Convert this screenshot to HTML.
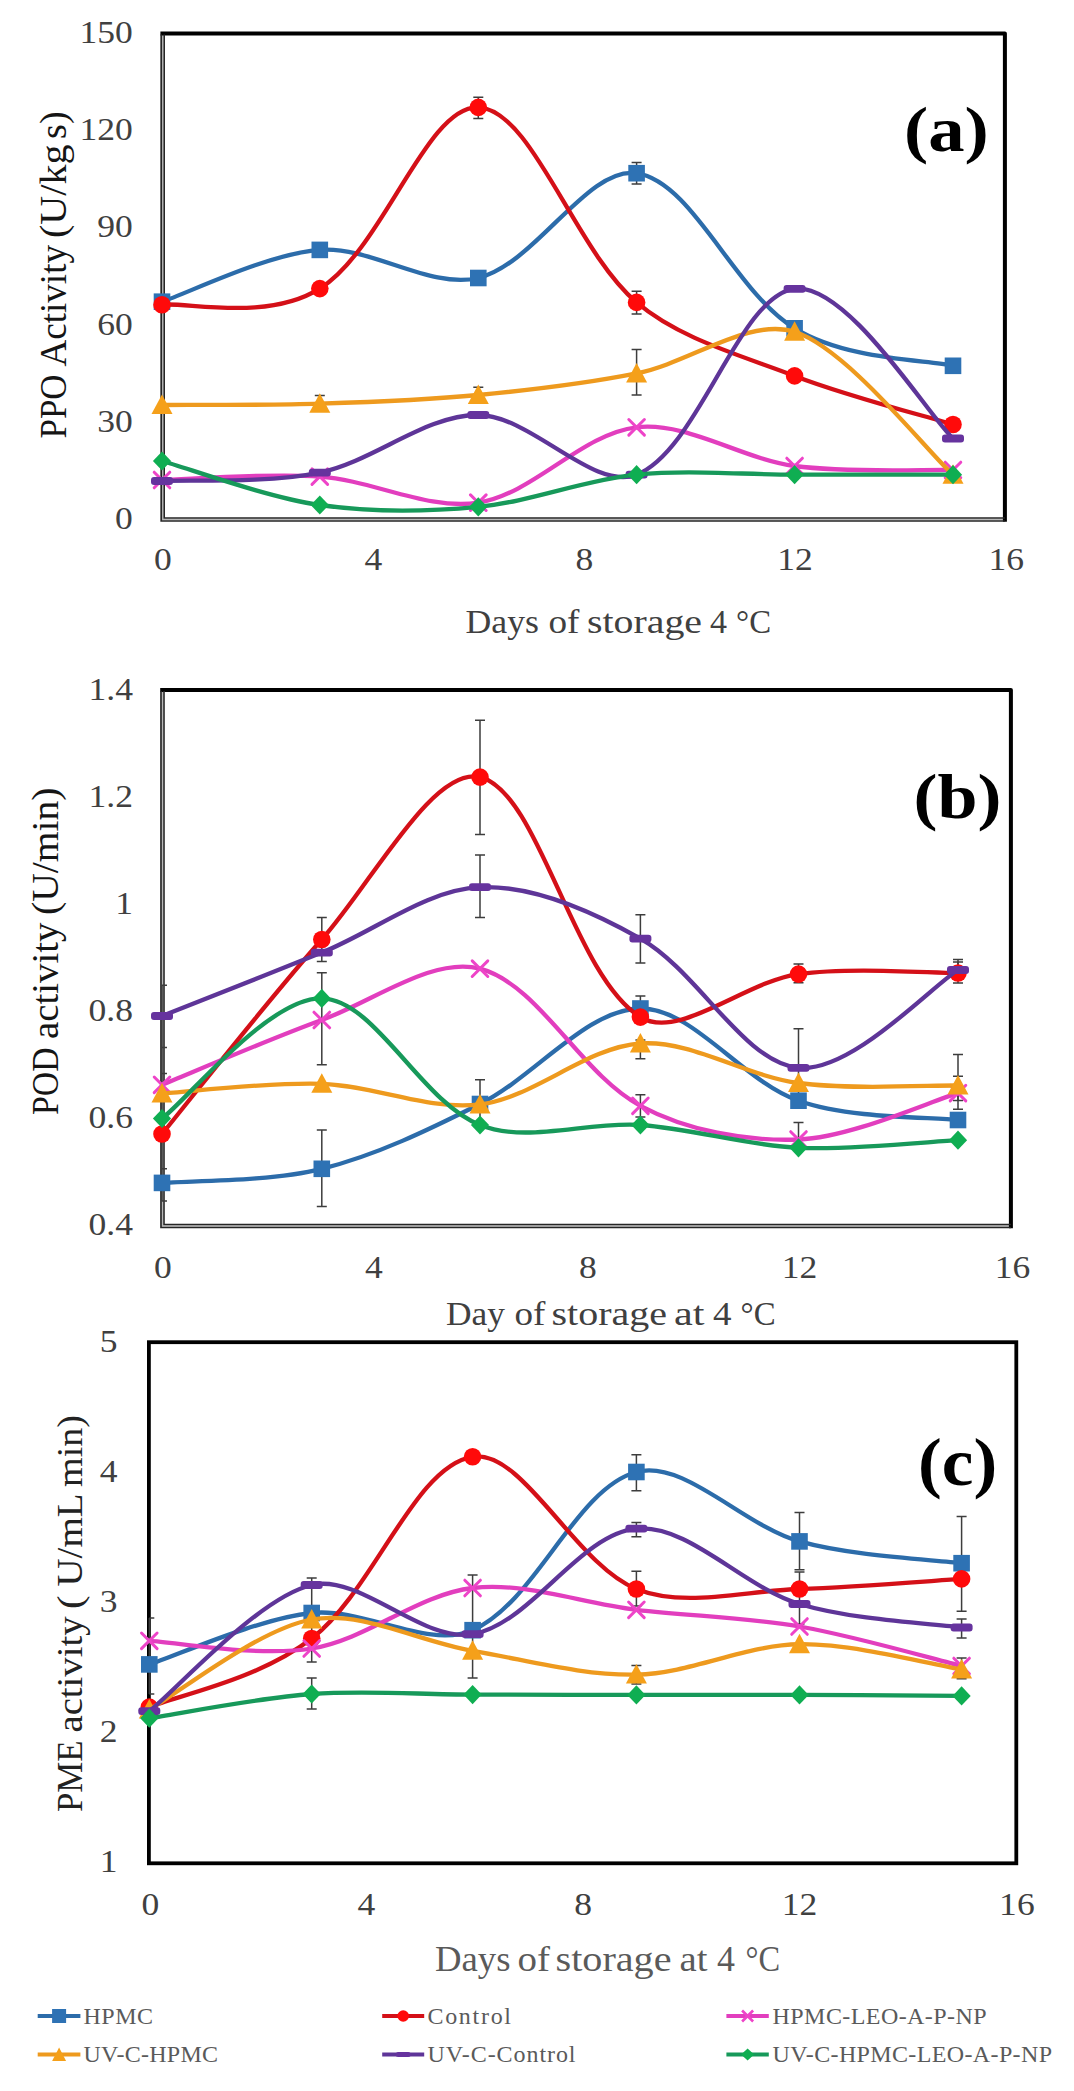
<!DOCTYPE html>
<html><head><meta charset="utf-8"><title>Enzyme activity charts</title>
<style>html,body{margin:0;padding:0;background:#fff;width:1074px;height:2091px;overflow:hidden}svg{display:block}</style>
</head><body>
<svg width="1074" height="2091" viewBox="0 0 1074 2091" font-family="'Liberation Serif', serif">
<rect width="1074" height="2091" fill="#fff"/>
<path d="M160.4,33.4 H1004.9 V521.8" stroke="#000" stroke-width="4" fill="none" stroke-linejoin="round"/><path d="M161.2,34.4 V521.0 H1004.9" stroke="#262626" stroke-width="1.7" fill="none"/><path d="M164.2,34.4 V518.0 H1004.9" stroke="#262626" stroke-width="1.6" fill="none"/><path d="M162.7,34.4 V519.5 H1004.9" stroke="rgba(0,0,0,0.28)" stroke-width="1.4" fill="none"/>
<path d="M160.2,689.9 H1010.9 V1228.3" stroke="#000" stroke-width="4" fill="none" stroke-linejoin="round"/><path d="M161.0,690.9 V1227.5 H1010.9" stroke="#262626" stroke-width="1.7" fill="none"/><path d="M164.0,690.9 V1224.5 H1010.9" stroke="#262626" stroke-width="1.6" fill="none"/><path d="M162.5,690.9 V1226.0 H1010.9" stroke="rgba(0,0,0,0.28)" stroke-width="1.4" fill="none"/>
<rect x="148.9" y="1342.2" width="867.4" height="521.1" stroke="#000" stroke-width="3.8" fill="none"/>
<path d="M478.3,97.3 V118.6 M473.3,97.3 H483.3 M473.3,118.6 H483.3" stroke="#3d3d3d" stroke-width="1.5" fill="none"/>
<path d="M636.6,162.5 V183.9 M631.6,162.5 H641.6 M631.6,183.9 H641.6" stroke="#3d3d3d" stroke-width="1.5" fill="none"/>
<path d="M636.6,291.3 V314.1 M631.6,291.3 H641.6 M631.6,314.1 H641.6" stroke="#3d3d3d" stroke-width="1.5" fill="none"/>
<path d="M636.6,349.5 V395.0 M631.6,349.5 H641.6 M631.6,395.0 H641.6" stroke="#3d3d3d" stroke-width="1.5" fill="none"/>
<path d="M319.8,395.5 V410.0 M314.8,395.5 H324.8 M314.8,410.0 H324.8" stroke="#3d3d3d" stroke-width="1.5" fill="none"/>
<path d="M478.3,387.2 V402.0 M473.3,387.2 H483.3 M473.3,402.0 H483.3" stroke="#3d3d3d" stroke-width="1.5" fill="none"/>
<path d="M478.3,411.8 V418.0 M473.3,411.8 H483.3 M473.3,418.0 H483.3" stroke="#3d3d3d" stroke-width="1.5" fill="none"/>
<path d="M162.0,301.7 C188.3,293.1 267.1,253.8 319.8,249.9 C371.7,246.0 429.8,289.7 478.3,278.0 C535.4,264.2 587.9,165.5 636.6,173.2 C693.4,182.2 733.8,291.3 794.6,328.3 C847.3,360.4 926.6,359.6 953.0,365.8" stroke="#2C6CAA" stroke-width="4.3" fill="none" stroke-linecap="round" stroke-linejoin="round"/>
<rect x="153.7" y="293.4" width="16.6" height="16.6" fill="#2E72B4"/>
<rect x="311.5" y="241.6" width="16.6" height="16.6" fill="#2E72B4"/>
<rect x="470.0" y="269.7" width="16.6" height="16.6" fill="#2E72B4"/>
<rect x="628.3" y="164.9" width="16.6" height="16.6" fill="#2E72B4"/>
<rect x="786.3" y="320.0" width="16.6" height="16.6" fill="#2E72B4"/>
<rect x="944.7" y="357.5" width="16.6" height="16.6" fill="#2E72B4"/>
<path d="M162.0,304.7 C188.3,302.0 267.1,321.5 319.8,288.6 C383.4,249.0 426.6,105.1 478.3,107.4 C532.2,109.7 574.4,249.6 636.6,302.4 C679.8,339.1 740.5,355.0 794.6,375.9 C847.3,396.2 926.6,416.4 953.0,424.5" stroke="#D41018" stroke-width="4.3" fill="none" stroke-linecap="round" stroke-linejoin="round"/>
<circle cx="162.0" cy="304.7" r="8.8" fill="#FF0A0A"/>
<circle cx="319.8" cy="288.6" r="8.8" fill="#FF0A0A"/>
<circle cx="478.3" cy="107.4" r="8.8" fill="#FF0A0A"/>
<circle cx="636.6" cy="302.4" r="8.8" fill="#FF0A0A"/>
<circle cx="794.6" cy="375.9" r="8.8" fill="#FF0A0A"/>
<circle cx="953.0" cy="424.5" r="8.8" fill="#FF0A0A"/>
<path d="M162.0,480.0 C188.3,479.4 267.1,472.8 319.8,476.6 C373.0,480.4 427.8,510.6 478.3,502.7 C533.4,494.1 581.9,433.6 636.6,427.3 C687.3,421.4 741.2,458.8 794.6,466.0 C847.3,473.1 926.6,469.3 953.0,470.0" stroke="#E23EBE" stroke-width="4.3" fill="none" stroke-linecap="round" stroke-linejoin="round"/>
<path d="M154.2,472.2 L169.8,487.8 M154.2,487.8 L169.8,472.2" stroke="#EE44C8" stroke-width="3.0" stroke-linecap="round" fill="none"/>
<path d="M312.0,468.8 L327.6,484.4 M312.0,484.4 L327.6,468.8" stroke="#EE44C8" stroke-width="3.0" stroke-linecap="round" fill="none"/>
<path d="M470.5,494.9 L486.1,510.5 M470.5,510.5 L486.1,494.9" stroke="#EE44C8" stroke-width="3.0" stroke-linecap="round" fill="none"/>
<path d="M628.8,419.5 L644.4,435.1 M628.8,435.1 L644.4,419.5" stroke="#EE44C8" stroke-width="3.0" stroke-linecap="round" fill="none"/>
<path d="M786.8,458.2 L802.4,473.8 M786.8,473.8 L802.4,458.2" stroke="#EE44C8" stroke-width="3.0" stroke-linecap="round" fill="none"/>
<path d="M945.2,462.2 L960.8,477.8 M945.2,477.8 L960.8,462.2" stroke="#EE44C8" stroke-width="3.0" stroke-linecap="round" fill="none"/>
<path d="M162.0,405.0 C188.3,404.8 267.1,405.4 319.8,403.7 C372.7,402.0 425.7,400.0 478.3,395.0 C531.3,389.9 584.5,383.8 636.6,373.4 C689.9,362.7 748.9,317.2 794.6,331.8 C847.3,348.7 926.6,450.9 953.0,474.7" stroke="#EE9A1E" stroke-width="4.3" fill="none" stroke-linecap="round" stroke-linejoin="round"/>
<path d="M162.0,394.5 L172.5,414.0 L151.5,414.0 Z" fill="#F5A01A"/>
<path d="M319.8,393.2 L330.3,412.7 L309.3,412.7 Z" fill="#F5A01A"/>
<path d="M478.3,384.5 L488.8,404.0 L467.8,404.0 Z" fill="#F5A01A"/>
<path d="M636.6,362.9 L647.1,382.4 L626.1,382.4 Z" fill="#F5A01A"/>
<path d="M794.6,321.3 L805.1,340.8 L784.1,340.8 Z" fill="#F5A01A"/>
<path d="M953.0,464.2 L963.5,483.7 L942.5,483.7 Z" fill="#F5A01A"/>
<path d="M162.0,481.0 C188.3,479.6 267.1,483.6 319.8,472.6 C374.2,461.2 425.6,414.7 478.3,415.0 C531.2,415.4 593.4,491.9 636.6,474.7 C698.9,449.9 738.9,295.2 794.6,288.8 C847.3,282.8 926.6,413.6 953.0,438.5" stroke="#5E3598" stroke-width="4.3" fill="none" stroke-linecap="round" stroke-linejoin="round"/>
<rect x="151.0" y="477.1" width="22.0" height="7.8" rx="3.0" fill="#66339E"/>
<rect x="308.8" y="468.7" width="22.0" height="7.8" rx="3.0" fill="#66339E"/>
<rect x="467.3" y="411.1" width="22.0" height="7.8" rx="3.0" fill="#66339E"/>
<rect x="625.6" y="470.8" width="22.0" height="7.8" rx="3.0" fill="#66339E"/>
<rect x="783.6" y="284.9" width="22.0" height="7.8" rx="3.0" fill="#66339E"/>
<rect x="942.0" y="434.6" width="22.0" height="7.8" rx="3.0" fill="#66339E"/>
<path d="M162.0,461.0 C188.3,468.3 267.1,497.4 319.8,505.0 C371.6,512.5 426.0,511.8 478.3,506.8 C531.6,501.7 583.3,480.1 636.6,474.7 C688.7,469.4 741.9,474.7 794.6,474.7 C847.3,474.7 926.6,474.7 953.0,474.7" stroke="#17995A" stroke-width="4.3" fill="none" stroke-linecap="round" stroke-linejoin="round"/>
<path d="M162.0,451.4 L171.1,461.0 L162.0,470.6 L152.9,461.0 Z" fill="#0FAE52"/>
<path d="M319.8,495.4 L328.9,505.0 L319.8,514.6 L310.7,505.0 Z" fill="#0FAE52"/>
<path d="M478.3,497.2 L487.4,506.8 L478.3,516.4 L469.2,506.8 Z" fill="#0FAE52"/>
<path d="M636.6,465.1 L645.7,474.7 L636.6,484.3 L627.5,474.7 Z" fill="#0FAE52"/>
<path d="M794.6,465.1 L803.7,474.7 L794.6,484.3 L785.5,474.7 Z" fill="#0FAE52"/>
<path d="M953.0,465.1 L962.1,474.7 L953.0,484.3 L943.9,474.7 Z" fill="#0FAE52"/>
<path d="M480.0,720.3 V834.5 M475.0,720.3 H485.0 M475.0,834.5 H485.0" stroke="#3d3d3d" stroke-width="1.5" fill="none"/>
<path d="M480.0,855.0 V917.4 M475.0,855.0 H485.0 M475.0,917.4 H485.0" stroke="#3d3d3d" stroke-width="1.5" fill="none"/>
<path d="M321.8,917.4 V961.6 M316.8,917.4 H326.8 M316.8,961.6 H326.8" stroke="#3d3d3d" stroke-width="1.5" fill="none"/>
<path d="M321.8,972.7 V1064.7 M316.8,972.7 H326.8 M316.8,1064.7 H326.8" stroke="#3d3d3d" stroke-width="1.5" fill="none"/>
<path d="M321.8,1130.0 V1206.5 M316.8,1130.0 H326.8 M316.8,1206.5 H326.8" stroke="#3d3d3d" stroke-width="1.5" fill="none"/>
<path d="M480.0,1079.8 V1128.0 M475.0,1079.8 H485.0 M475.0,1128.0 H485.0" stroke="#3d3d3d" stroke-width="1.5" fill="none"/>
<path d="M640.4,914.8 V963.0 M635.4,914.8 H645.4 M635.4,963.0 H645.4" stroke="#3d3d3d" stroke-width="1.5" fill="none"/>
<path d="M640.4,995.9 V1020.0 M635.4,995.9 H645.4 M635.4,1020.0 H645.4" stroke="#3d3d3d" stroke-width="1.5" fill="none"/>
<path d="M640.4,1040.0 V1058.7 M635.4,1040.0 H645.4 M635.4,1058.7 H645.4" stroke="#3d3d3d" stroke-width="1.5" fill="none"/>
<path d="M640.4,1094.7 V1117.0 M635.4,1094.7 H645.4 M635.4,1117.0 H645.4" stroke="#3d3d3d" stroke-width="1.5" fill="none"/>
<path d="M798.5,1028.8 V1108.0 M793.5,1028.8 H803.5 M793.5,1108.0 H803.5" stroke="#3d3d3d" stroke-width="1.5" fill="none"/>
<path d="M798.5,1122.5 V1150.0 M793.5,1122.5 H803.5 M793.5,1150.0 H803.5" stroke="#3d3d3d" stroke-width="1.5" fill="none"/>
<path d="M798.5,964.0 V982.7 M793.5,964.0 H803.5 M793.5,982.7 H803.5" stroke="#3d3d3d" stroke-width="1.5" fill="none"/>
<path d="M958.0,959.5 V983.0 M953.0,959.5 H963.0 M953.0,983.0 H963.0" stroke="#3d3d3d" stroke-width="1.5" fill="none"/>
<path d="M958.0,962.0 V975.0 M953.0,962.0 H963.0 M953.0,975.0 H963.0" stroke="#3d3d3d" stroke-width="1.5" fill="none"/>
<path d="M958.0,1054.6 V1100.4 M953.0,1054.6 H963.0 M953.0,1100.4 H963.0" stroke="#3d3d3d" stroke-width="1.5" fill="none"/>
<path d="M958.0,1076.2 V1109.3 M953.0,1076.2 H963.0 M953.0,1109.3 H963.0" stroke="#3d3d3d" stroke-width="1.5" fill="none"/>
<path d="M162.0,985.3 V1201.0 M162.0,985.3 H167.0 M162.0,1047.4 H167.0 M162.0,1073.5 H167.0 M162.0,1168.8 H167.0 M162.0,1200.9 H167.0" stroke="#3d3d3d" stroke-width="1.5" fill="none"/>
<path d="M162.0,1182.9 C188.6,1180.6 268.8,1182.0 321.8,1168.8 C376.5,1155.2 429.2,1129.5 480.0,1104.0 C535.4,1076.1 586.8,1009.1 640.4,1008.5 C693.0,1008.0 742.1,1080.9 798.5,1100.7 C851.4,1119.3 931.4,1116.8 958.0,1120.0" stroke="#2C6CAA" stroke-width="4.3" fill="none" stroke-linecap="round" stroke-linejoin="round"/>
<rect x="153.7" y="1174.6" width="16.6" height="16.6" fill="#2E72B4"/>
<rect x="313.5" y="1160.5" width="16.6" height="16.6" fill="#2E72B4"/>
<rect x="471.7" y="1095.7" width="16.6" height="16.6" fill="#2E72B4"/>
<rect x="632.1" y="1000.2" width="16.6" height="16.6" fill="#2E72B4"/>
<rect x="790.2" y="1092.4" width="16.6" height="16.6" fill="#2E72B4"/>
<rect x="949.7" y="1111.7" width="16.6" height="16.6" fill="#2E72B4"/>
<path d="M162.0,1134.0 C188.6,1101.6 268.8,999.0 321.8,939.5 C372.0,883.1 433.3,765.7 480.0,777.1 C539.5,791.6 572.7,975.2 640.4,1017.1 C678.8,1040.9 744.9,981.5 798.5,974.1 C851.4,966.8 931.4,973.2 958.0,973.0" stroke="#D41018" stroke-width="4.3" fill="none" stroke-linecap="round" stroke-linejoin="round"/>
<circle cx="162.0" cy="1134.0" r="8.8" fill="#FF0A0A"/>
<circle cx="321.8" cy="939.5" r="8.8" fill="#FF0A0A"/>
<circle cx="480.0" cy="777.1" r="8.8" fill="#FF0A0A"/>
<circle cx="640.4" cy="1017.1" r="8.8" fill="#FF0A0A"/>
<circle cx="798.5" cy="974.1" r="8.8" fill="#FF0A0A"/>
<circle cx="958.0" cy="973.0" r="8.8" fill="#FF0A0A"/>
<path d="M162.0,1084.8 C188.6,1074.0 268.8,1039.3 321.8,1020.0 C373.8,1001.0 433.2,956.1 480.0,968.7 C539.4,984.7 580.3,1073.6 640.4,1105.8 C686.5,1130.5 746.3,1141.6 798.5,1139.5 C851.4,1137.4 931.4,1100.8 958.0,1093.1" stroke="#E23EBE" stroke-width="4.3" fill="none" stroke-linecap="round" stroke-linejoin="round"/>
<path d="M154.2,1077.0 L169.8,1092.6 M154.2,1092.6 L169.8,1077.0" stroke="#EE44C8" stroke-width="3.0" stroke-linecap="round" fill="none"/>
<path d="M314.0,1012.2 L329.6,1027.8 M314.0,1027.8 L329.6,1012.2" stroke="#EE44C8" stroke-width="3.0" stroke-linecap="round" fill="none"/>
<path d="M472.2,960.9 L487.8,976.5 M472.2,976.5 L487.8,960.9" stroke="#EE44C8" stroke-width="3.0" stroke-linecap="round" fill="none"/>
<path d="M632.6,1098.0 L648.2,1113.6 M632.6,1113.6 L648.2,1098.0" stroke="#EE44C8" stroke-width="3.0" stroke-linecap="round" fill="none"/>
<path d="M790.7,1131.7 L806.3,1147.3 M790.7,1147.3 L806.3,1131.7" stroke="#EE44C8" stroke-width="3.0" stroke-linecap="round" fill="none"/>
<path d="M950.2,1085.3 L965.8,1100.9 M950.2,1100.9 L965.8,1085.3" stroke="#EE44C8" stroke-width="3.0" stroke-linecap="round" fill="none"/>
<path d="M162.0,1093.4 C188.6,1091.8 268.8,1082.0 321.8,1083.8 C374.7,1085.6 428.8,1110.9 480.0,1104.4 C535.0,1097.4 586.0,1047.2 640.4,1043.5 C692.1,1040.0 745.0,1075.9 798.5,1083.0 C851.4,1090.0 931.4,1085.1 958.0,1085.5" stroke="#EE9A1E" stroke-width="4.3" fill="none" stroke-linecap="round" stroke-linejoin="round"/>
<path d="M162.0,1082.9 L172.5,1102.4 L151.5,1102.4 Z" fill="#F5A01A"/>
<path d="M321.8,1073.3 L332.3,1092.8 L311.3,1092.8 Z" fill="#F5A01A"/>
<path d="M480.0,1093.9 L490.5,1113.4 L469.5,1113.4 Z" fill="#F5A01A"/>
<path d="M640.4,1033.0 L650.9,1052.5 L629.9,1052.5 Z" fill="#F5A01A"/>
<path d="M798.5,1072.5 L809.0,1092.0 L788.0,1092.0 Z" fill="#F5A01A"/>
<path d="M958.0,1075.0 L968.5,1094.5 L947.5,1094.5 Z" fill="#F5A01A"/>
<path d="M162.0,1016.0 C188.6,1005.4 268.8,974.1 321.8,952.6 C374.7,931.2 426.5,889.6 480.0,887.2 C532.7,884.9 592.4,911.4 640.4,938.6 C698.6,971.6 743.3,1062.3 798.5,1067.8 C851.4,1073.0 931.4,986.3 958.0,970.0" stroke="#5E3598" stroke-width="4.3" fill="none" stroke-linecap="round" stroke-linejoin="round"/>
<rect x="151.0" y="1012.1" width="22.0" height="7.8" rx="3.0" fill="#66339E"/>
<rect x="310.8" y="948.7" width="22.0" height="7.8" rx="3.0" fill="#66339E"/>
<rect x="469.0" y="883.3" width="22.0" height="7.8" rx="3.0" fill="#66339E"/>
<rect x="629.4" y="934.7" width="22.0" height="7.8" rx="3.0" fill="#66339E"/>
<rect x="787.5" y="1063.9" width="22.0" height="7.8" rx="3.0" fill="#66339E"/>
<rect x="947.0" y="966.1" width="22.0" height="7.8" rx="3.0" fill="#66339E"/>
<path d="M162.0,1118.5 C188.6,1098.5 268.8,997.3 321.8,998.4 C375.2,999.5 420.7,1101.4 480.0,1125.0 C526.9,1143.6 587.2,1121.2 640.4,1125.0 C693.4,1128.8 745.6,1145.3 798.5,1147.8 C851.4,1150.3 931.4,1141.5 958.0,1140.2" stroke="#17995A" stroke-width="4.3" fill="none" stroke-linecap="round" stroke-linejoin="round"/>
<path d="M162.0,1108.9 L171.1,1118.5 L162.0,1128.1 L152.9,1118.5 Z" fill="#0FAE52"/>
<path d="M321.8,988.8 L330.9,998.4 L321.8,1008.0 L312.7,998.4 Z" fill="#0FAE52"/>
<path d="M480.0,1115.4 L489.1,1125.0 L480.0,1134.6 L470.9,1125.0 Z" fill="#0FAE52"/>
<path d="M640.4,1115.4 L649.5,1125.0 L640.4,1134.6 L631.3,1125.0 Z" fill="#0FAE52"/>
<path d="M798.5,1138.2 L807.6,1147.8 L798.5,1157.4 L789.4,1147.8 Z" fill="#0FAE52"/>
<path d="M958.0,1130.6 L967.1,1140.2 L958.0,1149.8 L948.9,1140.2 Z" fill="#0FAE52"/>
<path d="M149.3,1618.0 V1694.0 M149.3,1618.0 H154.3 M149.3,1694.0 H154.3" stroke="#3d3d3d" stroke-width="1.5" fill="none"/>
<path d="M311.7,1578.0 V1662.0 M306.7,1578.0 H316.7 M306.7,1662.0 H316.7" stroke="#3d3d3d" stroke-width="1.5" fill="none"/>
<path d="M311.7,1678.0 V1709.0 M306.7,1678.0 H316.7 M306.7,1709.0 H316.7" stroke="#3d3d3d" stroke-width="1.5" fill="none"/>
<path d="M472.6,1575.0 V1678.0 M467.6,1575.0 H477.6 M467.6,1678.0 H477.6" stroke="#3d3d3d" stroke-width="1.5" fill="none"/>
<path d="M636.4,1454.8 V1490.7 M631.4,1454.8 H641.4 M631.4,1490.7 H641.4" stroke="#3d3d3d" stroke-width="1.5" fill="none"/>
<path d="M636.4,1522.6 V1536.8 M631.4,1522.6 H641.4 M631.4,1536.8 H641.4" stroke="#3d3d3d" stroke-width="1.5" fill="none"/>
<path d="M636.4,1571.3 V1606.0 M631.4,1571.3 H641.4 M631.4,1606.0 H641.4" stroke="#3d3d3d" stroke-width="1.5" fill="none"/>
<path d="M636.4,1665.5 V1684.0 M631.4,1665.5 H641.4 M631.4,1684.0 H641.4" stroke="#3d3d3d" stroke-width="1.5" fill="none"/>
<path d="M799.5,1512.5 V1569.7 M794.5,1512.5 H804.5 M794.5,1569.7 H804.5" stroke="#3d3d3d" stroke-width="1.5" fill="none"/>
<path d="M799.5,1572.0 V1624.0 M794.5,1572.0 H804.5 M794.5,1624.0 H804.5" stroke="#3d3d3d" stroke-width="1.5" fill="none"/>
<path d="M961.6,1516.6 V1611.3 M956.6,1516.6 H966.6 M956.6,1611.3 H966.6" stroke="#3d3d3d" stroke-width="1.5" fill="none"/>
<path d="M961.6,1618.9 V1638.0 M956.6,1618.9 H966.6 M956.6,1638.0 H966.6" stroke="#3d3d3d" stroke-width="1.5" fill="none"/>
<path d="M961.6,1657.9 V1678.7 M956.6,1657.9 H966.6 M956.6,1678.7 H966.6" stroke="#3d3d3d" stroke-width="1.5" fill="none"/>
<path d="M149.3,1664.4 C176.4,1655.8 257.8,1618.7 311.7,1613.0 C364.2,1607.4 427.6,1649.7 472.6,1630.2 C535.9,1602.7 575.1,1488.6 636.4,1472.0 C684.1,1459.0 743.1,1525.6 799.5,1541.4 C853.7,1556.6 934.6,1559.6 961.6,1563.2" stroke="#2C6CAA" stroke-width="4.3" fill="none" stroke-linecap="round" stroke-linejoin="round"/>
<rect x="141.0" y="1656.1" width="16.6" height="16.6" fill="#2E72B4"/>
<rect x="303.4" y="1604.7" width="16.6" height="16.6" fill="#2E72B4"/>
<rect x="464.3" y="1621.9" width="16.6" height="16.6" fill="#2E72B4"/>
<rect x="628.1" y="1463.7" width="16.6" height="16.6" fill="#2E72B4"/>
<rect x="791.2" y="1533.1" width="16.6" height="16.6" fill="#2E72B4"/>
<rect x="953.3" y="1554.9" width="16.6" height="16.6" fill="#2E72B4"/>
<path d="M149.3,1707.1 C176.4,1695.7 257.8,1680.2 311.7,1638.5 C374.1,1590.2 414.6,1465.6 472.6,1456.8 C522.9,1449.1 575.0,1564.2 636.4,1589.0 C684.0,1608.2 745.2,1590.7 799.5,1589.0 C853.7,1587.3 934.6,1580.6 961.6,1578.9" stroke="#D41018" stroke-width="4.3" fill="none" stroke-linecap="round" stroke-linejoin="round"/>
<circle cx="149.3" cy="1707.1" r="8.8" fill="#FF0A0A"/>
<circle cx="311.7" cy="1638.5" r="8.8" fill="#FF0A0A"/>
<circle cx="472.6" cy="1456.8" r="8.8" fill="#FF0A0A"/>
<circle cx="636.4" cy="1589.0" r="8.8" fill="#FF0A0A"/>
<circle cx="799.5" cy="1589.0" r="8.8" fill="#FF0A0A"/>
<circle cx="961.6" cy="1578.9" r="8.8" fill="#FF0A0A"/>
<path d="M149.3,1640.8 C176.4,1642.1 257.8,1657.3 311.7,1648.5 C367.1,1639.5 417.4,1594.6 472.6,1588.0 C525.6,1581.7 581.7,1603.4 636.4,1609.8 C690.7,1616.2 745.8,1617.2 799.5,1626.5 C853.7,1635.9 934.6,1659.4 961.6,1666.0" stroke="#E23EBE" stroke-width="4.3" fill="none" stroke-linecap="round" stroke-linejoin="round"/>
<path d="M141.5,1633.0 L157.1,1648.6 M141.5,1648.6 L157.1,1633.0" stroke="#EE44C8" stroke-width="3.0" stroke-linecap="round" fill="none"/>
<path d="M303.9,1640.7 L319.5,1656.3 M303.9,1656.3 L319.5,1640.7" stroke="#EE44C8" stroke-width="3.0" stroke-linecap="round" fill="none"/>
<path d="M464.8,1580.2 L480.4,1595.8 M464.8,1595.8 L480.4,1580.2" stroke="#EE44C8" stroke-width="3.0" stroke-linecap="round" fill="none"/>
<path d="M628.6,1602.0 L644.2,1617.6 M628.6,1617.6 L644.2,1602.0" stroke="#EE44C8" stroke-width="3.0" stroke-linecap="round" fill="none"/>
<path d="M791.7,1618.7 L807.3,1634.3 M791.7,1634.3 L807.3,1618.7" stroke="#EE44C8" stroke-width="3.0" stroke-linecap="round" fill="none"/>
<path d="M953.8,1658.2 L969.4,1673.8 M953.8,1673.8 L969.4,1658.2" stroke="#EE44C8" stroke-width="3.0" stroke-linecap="round" fill="none"/>
<path d="M149.3,1709.6 C176.4,1694.6 257.8,1629.3 311.7,1619.5 C362.2,1610.3 418.7,1641.7 472.6,1650.8 C527.0,1660.0 582.0,1675.7 636.4,1674.6 C690.9,1673.5 745.0,1645.1 799.5,1644.2 C853.7,1643.4 934.6,1665.3 961.6,1669.5" stroke="#EE9A1E" stroke-width="4.3" fill="none" stroke-linecap="round" stroke-linejoin="round"/>
<path d="M149.3,1699.1 L159.8,1718.6 L138.8,1718.6 Z" fill="#F5A01A"/>
<path d="M311.7,1609.0 L322.2,1628.5 L301.2,1628.5 Z" fill="#F5A01A"/>
<path d="M472.6,1640.3 L483.1,1659.8 L462.1,1659.8 Z" fill="#F5A01A"/>
<path d="M636.4,1664.1 L646.9,1683.6 L625.9,1683.6 Z" fill="#F5A01A"/>
<path d="M799.5,1633.7 L810.0,1653.2 L789.0,1653.2 Z" fill="#F5A01A"/>
<path d="M961.6,1659.0 L972.1,1678.5 L951.1,1678.5 Z" fill="#F5A01A"/>
<path d="M149.3,1711.2 C176.4,1690.2 257.8,1597.8 311.7,1585.0 C360.2,1573.5 422.4,1642.9 472.6,1634.2 C530.7,1624.1 579.7,1533.9 636.4,1528.7 C688.7,1523.9 742.8,1586.8 799.5,1604.0 C853.7,1620.5 934.6,1623.6 961.6,1627.5" stroke="#5E3598" stroke-width="4.3" fill="none" stroke-linecap="round" stroke-linejoin="round"/>
<rect x="138.3" y="1707.3" width="22.0" height="7.8" rx="3.0" fill="#66339E"/>
<rect x="300.7" y="1581.1" width="22.0" height="7.8" rx="3.0" fill="#66339E"/>
<rect x="461.6" y="1630.3" width="22.0" height="7.8" rx="3.0" fill="#66339E"/>
<rect x="625.4" y="1524.8" width="22.0" height="7.8" rx="3.0" fill="#66339E"/>
<rect x="788.5" y="1600.1" width="22.0" height="7.8" rx="3.0" fill="#66339E"/>
<rect x="950.6" y="1623.6" width="22.0" height="7.8" rx="3.0" fill="#66339E"/>
<path d="M149.3,1718.2 C176.4,1714.2 257.8,1697.9 311.7,1694.0 C365.0,1690.1 419.0,1694.5 472.6,1694.6 C527.2,1694.8 581.8,1694.8 636.4,1694.9 C690.8,1694.9 745.1,1694.7 799.5,1694.9 C853.7,1695.1 934.6,1695.7 961.6,1695.9" stroke="#17995A" stroke-width="4.3" fill="none" stroke-linecap="round" stroke-linejoin="round"/>
<path d="M149.3,1708.6 L158.4,1718.2 L149.3,1727.8 L140.2,1718.2 Z" fill="#0FAE52"/>
<path d="M311.7,1684.4 L320.8,1694.0 L311.7,1703.6 L302.6,1694.0 Z" fill="#0FAE52"/>
<path d="M472.6,1685.0 L481.7,1694.6 L472.6,1704.2 L463.5,1694.6 Z" fill="#0FAE52"/>
<path d="M636.4,1685.3 L645.5,1694.9 L636.4,1704.5 L627.3,1694.9 Z" fill="#0FAE52"/>
<path d="M799.5,1685.3 L808.6,1694.9 L799.5,1704.5 L790.4,1694.9 Z" fill="#0FAE52"/>
<path d="M961.6,1686.3 L970.7,1695.9 L961.6,1705.5 L952.5,1695.9 Z" fill="#0FAE52"/>
<text transform="translate(132.80,43.00) scale(1.130,1)" x="0" y="0" font-size="31.5" text-anchor="end" fill="#404040">150</text>
<text transform="translate(132.80,140.20) scale(1.130,1)" x="0" y="0" font-size="31.5" text-anchor="end" fill="#404040">120</text>
<text transform="translate(132.80,237.40) scale(1.130,1)" x="0" y="0" font-size="31.5" text-anchor="end" fill="#404040">90</text>
<text transform="translate(132.80,334.60) scale(1.130,1)" x="0" y="0" font-size="31.5" text-anchor="end" fill="#404040">60</text>
<text transform="translate(132.80,431.80) scale(1.130,1)" x="0" y="0" font-size="31.5" text-anchor="end" fill="#404040">30</text>
<text transform="translate(132.80,529.00) scale(1.130,1)" x="0" y="0" font-size="31.5" text-anchor="end" fill="#404040">0</text>
<text transform="translate(163.00,570.30) scale(1.130,1)" x="0" y="0" font-size="31.5" text-anchor="middle" fill="#404040">0</text>
<text transform="translate(373.50,570.30) scale(1.130,1)" x="0" y="0" font-size="31.5" text-anchor="middle" fill="#404040">4</text>
<text transform="translate(584.50,570.30) scale(1.130,1)" x="0" y="0" font-size="31.5" text-anchor="middle" fill="#404040">8</text>
<text transform="translate(795.00,570.30) scale(1.130,1)" x="0" y="0" font-size="31.5" text-anchor="middle" fill="#404040">12</text>
<text transform="translate(1006.30,570.30) scale(1.130,1)" x="0" y="0" font-size="31.5" text-anchor="middle" fill="#404040">16</text>
<text transform="translate(133.00,699.80) scale(1.130,1)" x="0" y="0" font-size="31.5" text-anchor="end" fill="#404040">1.4</text>
<text transform="translate(133.00,806.90) scale(1.130,1)" x="0" y="0" font-size="31.5" text-anchor="end" fill="#404040">1.2</text>
<text transform="translate(133.00,914.00) scale(1.130,1)" x="0" y="0" font-size="31.5" text-anchor="end" fill="#404040">1</text>
<text transform="translate(133.00,1021.10) scale(1.130,1)" x="0" y="0" font-size="31.5" text-anchor="end" fill="#404040">0.8</text>
<text transform="translate(133.00,1128.20) scale(1.130,1)" x="0" y="0" font-size="31.5" text-anchor="end" fill="#404040">0.6</text>
<text transform="translate(133.00,1235.30) scale(1.130,1)" x="0" y="0" font-size="31.5" text-anchor="end" fill="#404040">0.4</text>
<text transform="translate(163.00,1277.80) scale(1.130,1)" x="0" y="0" font-size="31.5" text-anchor="middle" fill="#404040">0</text>
<text transform="translate(374.00,1277.80) scale(1.130,1)" x="0" y="0" font-size="31.5" text-anchor="middle" fill="#404040">4</text>
<text transform="translate(588.00,1277.80) scale(1.130,1)" x="0" y="0" font-size="31.5" text-anchor="middle" fill="#404040">8</text>
<text transform="translate(799.50,1277.80) scale(1.130,1)" x="0" y="0" font-size="31.5" text-anchor="middle" fill="#404040">12</text>
<text transform="translate(1012.50,1277.80) scale(1.130,1)" x="0" y="0" font-size="31.5" text-anchor="middle" fill="#404040">16</text>
<text transform="translate(117.50,1351.60) scale(1.130,1)" x="0" y="0" font-size="31.5" text-anchor="end" fill="#404040">5</text>
<text transform="translate(117.50,1481.70) scale(1.130,1)" x="0" y="0" font-size="31.5" text-anchor="end" fill="#404040">4</text>
<text transform="translate(117.50,1611.80) scale(1.130,1)" x="0" y="0" font-size="31.5" text-anchor="end" fill="#404040">3</text>
<text transform="translate(117.50,1741.90) scale(1.130,1)" x="0" y="0" font-size="31.5" text-anchor="end" fill="#404040">2</text>
<text transform="translate(117.50,1872.00) scale(1.130,1)" x="0" y="0" font-size="31.5" text-anchor="end" fill="#404040">1</text>
<text transform="translate(150.30,1914.60) scale(1.130,1)" x="0" y="0" font-size="31.5" text-anchor="middle" fill="#404040">0</text>
<text transform="translate(366.50,1914.60) scale(1.130,1)" x="0" y="0" font-size="31.5" text-anchor="middle" fill="#404040">4</text>
<text transform="translate(583.20,1914.60) scale(1.130,1)" x="0" y="0" font-size="31.5" text-anchor="middle" fill="#404040">8</text>
<text transform="translate(799.50,1914.60) scale(1.130,1)" x="0" y="0" font-size="31.5" text-anchor="middle" fill="#404040">12</text>
<text transform="translate(1016.90,1914.60) scale(1.130,1)" x="0" y="0" font-size="31.5" text-anchor="middle" fill="#404040">16</text>
<text x="465.50" y="633.00" font-size="34.20" textLength="73.47" lengthAdjust="spacingAndGlyphs" fill="#404040">Days</text><text x="548.50" y="633.00" font-size="34.20" textLength="30.97" lengthAdjust="spacingAndGlyphs" fill="#404040">of</text><text x="587.00" y="633.00" font-size="34.20" textLength="114.99" lengthAdjust="spacingAndGlyphs" fill="#404040">storage</text><text x="710.00" y="633.00" font-size="34.20" textLength="17.00" lengthAdjust="spacingAndGlyphs" fill="#404040">4</text><text x="736.00" y="633.00" font-size="34.20" textLength="35.03" lengthAdjust="spacingAndGlyphs" fill="#404040">°C</text>
<text x="446.00" y="1325.20" font-size="34.62" textLength="59.00" lengthAdjust="spacingAndGlyphs" fill="#404040">Day</text><text x="514.50" y="1325.20" font-size="34.62" textLength="30.93" lengthAdjust="spacingAndGlyphs" fill="#404040">of</text><text x="551.50" y="1325.20" font-size="34.62" textLength="115.50" lengthAdjust="spacingAndGlyphs" fill="#404040">storage</text><text x="674.00" y="1325.20" font-size="34.62" textLength="30.47" lengthAdjust="spacingAndGlyphs" fill="#404040">at</text><text x="713.00" y="1325.20" font-size="34.62" textLength="18.53" lengthAdjust="spacingAndGlyphs" fill="#404040">4</text><text x="740.50" y="1325.20" font-size="34.62" textLength="35.03" lengthAdjust="spacingAndGlyphs" fill="#404040">°C</text>
<text x="435.00" y="1971.00" font-size="35.48" textLength="75.50" lengthAdjust="spacingAndGlyphs" fill="#5a5a5a">Days</text><text x="517.50" y="1971.00" font-size="35.48" textLength="32.42" lengthAdjust="spacingAndGlyphs" fill="#5a5a5a">of</text><text x="555.50" y="1971.00" font-size="35.48" textLength="116.01" lengthAdjust="spacingAndGlyphs" fill="#5a5a5a">storage</text><text x="679.50" y="1971.00" font-size="35.48" textLength="27.93" lengthAdjust="spacingAndGlyphs" fill="#5a5a5a">at</text><text x="717.00" y="1971.00" font-size="35.48" textLength="17.95" lengthAdjust="spacingAndGlyphs" fill="#5a5a5a">4</text><text x="745.50" y="1971.00" font-size="35.48" textLength="34.58" lengthAdjust="spacingAndGlyphs" fill="#5a5a5a">°C</text>
<text transform="translate(65.50,438.50) rotate(-90)" x="0" y="0" font-size="36.92" textLength="64.05" lengthAdjust="spacingAndGlyphs" fill="#151515">PPO</text><text transform="translate(65.50,366.50) rotate(-90)" x="0" y="0" font-size="36.92" textLength="121.51" lengthAdjust="spacingAndGlyphs" fill="#151515">Activity</text><text transform="translate(65.50,238.00) rotate(-90)" x="0" y="0" font-size="36.92" textLength="93.51" lengthAdjust="spacingAndGlyphs" fill="#151515">(U/kg</text><text transform="translate(65.50,139.00) rotate(-90)" x="0" y="0" font-size="36.92" textLength="27.61" lengthAdjust="spacingAndGlyphs" fill="#151515">s)</text>
<text transform="translate(57.70,1115.00) rotate(-90)" x="0" y="0" font-size="37.77" textLength="67.51" lengthAdjust="spacingAndGlyphs" fill="#151515">POD</text><text transform="translate(57.70,1039.00) rotate(-90)" x="0" y="0" font-size="37.77" textLength="116.49" lengthAdjust="spacingAndGlyphs" fill="#151515">activity</text><text transform="translate(57.70,915.00) rotate(-90)" x="0" y="0" font-size="37.77" textLength="127.54" lengthAdjust="spacingAndGlyphs" fill="#151515">(U/min)</text>
<text transform="translate(82.10,1812.00) rotate(-90)" x="0" y="0" font-size="36.45" textLength="71.53" lengthAdjust="spacingAndGlyphs" fill="#222">PME</text><text transform="translate(82.10,1732.50) rotate(-90)" x="0" y="0" font-size="36.45" textLength="116.00" lengthAdjust="spacingAndGlyphs" fill="#222">activity</text><text transform="translate(82.10,1609.00) rotate(-90)" x="0" y="0" font-size="36.45" textLength="13.58" lengthAdjust="spacingAndGlyphs" fill="#222">(</text><text transform="translate(82.10,1586.50) rotate(-90)" x="0" y="0" font-size="36.45" textLength="93.03" lengthAdjust="spacingAndGlyphs" fill="#222">U/mL</text><text transform="translate(82.10,1487.00) rotate(-90)" x="0" y="0" font-size="36.45" textLength="72.04" lengthAdjust="spacingAndGlyphs" fill="#222">min)</text>
<text x="904.00" y="151.00" font-size="64.21" textLength="84.76" lengthAdjust="spacingAndGlyphs" font-weight="bold" fill="#000">(a)</text>
<text x="913.60" y="817.80" font-size="63.54" textLength="87.89" lengthAdjust="spacingAndGlyphs" font-weight="bold" fill="#000">(b)</text>
<text x="918.00" y="1485.20" font-size="66.84" textLength="79.14" lengthAdjust="spacingAndGlyphs" font-weight="bold" fill="#000">(c)</text>
<path d="M37.7,2016.0 H80.4" stroke="#2C6CAA" stroke-width="4.2"/><rect x="52.1" y="2009.0" width="14" height="14" fill="#2E72B4"/><text x="83.40" y="2023.60" font-size="24.00" textLength="69.62" lengthAdjust="spacing" fill="#5a5a5a">HPMC</text>
<path d="M37.7,2054.5 H80.4" stroke="#EE9A1E" stroke-width="4.2"/><path d="M59.1,2047.5 L66.1,2061.0 L52.1,2061.0 Z" fill="#F5A01A"/><text x="83.40" y="2061.50" font-size="24.00" textLength="134.63" lengthAdjust="spacing" fill="#5a5a5a">UV-C-HPMC</text>
<path d="M382.2,2016.0 H424.2" stroke="#D41018" stroke-width="4.2"/><circle cx="403.2" cy="2016.0" r="5.8" fill="#FF0A0A"/><text x="427.40" y="2023.60" font-size="24.00" textLength="83.63" lengthAdjust="spacing" fill="#5a5a5a">Control</text>
<path d="M382.2,2054.5 H424.2" stroke="#5E3598" stroke-width="4.2"/><rect x="395.7" y="2052.0" width="15" height="5" rx="2.5" fill="#66339E"/><text x="427.40" y="2061.50" font-size="24.00" textLength="148.12" lengthAdjust="spacing" fill="#5a5a5a">UV-C-Control</text>
<path d="M726.4,2016.0 H768.8" stroke="#E23EBE" stroke-width="4.2"/><path d="M742.1,2010.5 L753.1,2021.5 M742.1,2021.5 L753.1,2010.5" stroke="#EE44C8" stroke-width="2.6" fill="none"/><text x="772.60" y="2023.60" font-size="24.00" textLength="213.90" lengthAdjust="spacing" fill="#5a5a5a">HPMC-LEO-A-P-NP</text>
<path d="M726.4,2054.5 H768.8" stroke="#17995A" stroke-width="4.2"/><path d="M747.6,2048.5 L754.1,2054.5 L747.6,2060.5 L741.1,2054.5 Z" fill="#0FAE52"/><text x="772.60" y="2061.50" font-size="24.00" textLength="279.41" lengthAdjust="spacing" fill="#5a5a5a">UV-C-HPMC-LEO-A-P-NP</text>
</svg>
</body></html>
